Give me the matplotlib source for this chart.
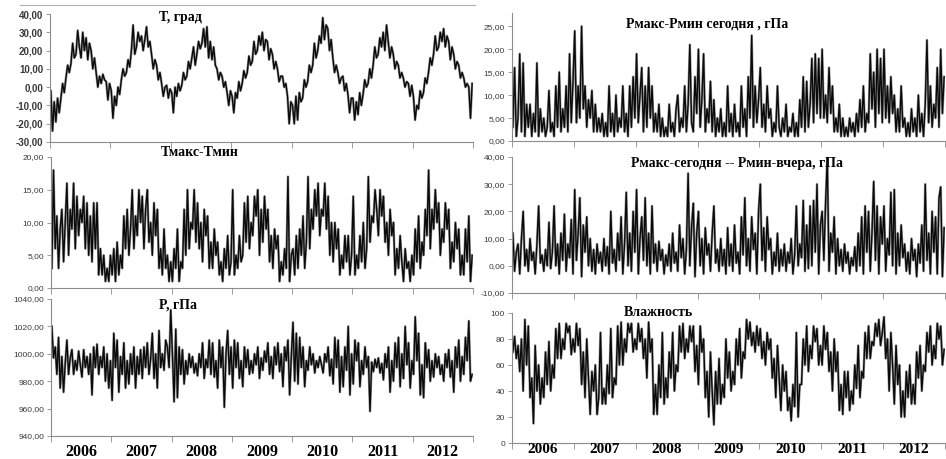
import numpy as np
import matplotlib
matplotlib.use('Agg')
import matplotlib.pyplot as plt
from matplotlib.ticker import FuncFormatter, FixedLocator, NullFormatter
from matplotlib.lines import Line2D

years = [2006, 2007, 2008, 2009, 2010, 2011, 2012]
per_year = 36  # три значения на месяц

# Т, град
t_grad = [
    -2, -24, -8, -19, -6, -14, -6, 2, -3, 5, 12, 8, 13, 24, 16, 18, 31, 22, 16, 30, 20, 27, 15, 24, 20, 10, 16, 8, 0, 6, 2, 7, 4, 3, -7, 2,
    -2, -17, -5, -10, 0, -4, 4, 10, 6, 8, 15, 11, 20, 34, 18, 22, 30, 25, 28, 20, 26, 33, 22, 25, 18, 10, 15, 12, 4, 8, 2, -5, 0, 1, -6, -1,
    -3, -14, 0, -5, 2, -2, 1, 8, 4, 6, 14, 10, 16, 22, 12, 18, 25, 21, 24, 32, 22, 33, 16, 25, 15, 22, 12, 10, 4, 8, 6, 0, 3, -3, -10, -2,
    -5, -14, -3, -6, 3, -2, 2, 9, 5, 8, 17, 12, 14, 25, 18, 20, 28, 23, 30, 20, 26, 25, 15, 21, 18, 10, 14, 10, 3, 6, 6, 0, 2, -5, -20, -8,
    -10, -20, -5, -18, -3, -8, -6, 4, 0, 3, 12, 8, 12, 24, 16, 20, 28, 24, 38, 26, 34, 32, 20, 26, 16, 8, 12, 8, 2, 5, 6, -2, 2, -4, -14, -6,
    -6, -18, -8, -15, -3, -10, -4, 4, 0, 2, 10, 5, 12, 22, 16, 18, 27, 22, 30, 20, 34, 25, 16, 22, 18, 10, 14, 12, 5, 8, 5, 0, 3, 2, -5, 1,
    -5, -18, -10, -12, -2, -6, -3, 5, 2, 8, 16, 12, 18, 28, 20, 22, 30, 25, 32, 22, 28, 25, 15, 22, 18, 10, 14, 12, 5, 8, 5, 0, 2, 0, -17, 2,
]

# Тмакс-Тмин
t_range = [
    3, 18, 6, 11, 3, 9, 12, 4, 10, 16, 5, 12, 9, 16, 6, 14, 8, 12, 10, 14, 6, 13, 5, 11, 4, 13, 6, 13, 2, 6, 2, 5, 1, 3, 1, 5,
    2, 6, 1, 7, 2, 5, 3, 11, 6, 12, 5, 9, 15, 6, 11, 8, 15, 10, 14, 6, 12, 15, 7, 10, 5, 13, 8, 12, 3, 6, 2, 9, 3, 5, 1, 4,
    1, 6, 3, 9, 1, 4, 3, 12, 5, 15, 6, 10, 9, 15, 7, 13, 6, 10, 4, 12, 8, 11, 3, 7, 3, 9, 5, 7, 2, 4, 1, 6, 3, 8, 2, 4,
    15, 2, 5, 3, 8, 4, 5, 13, 7, 14, 6, 10, 8, 14, 11, 15, 5, 12, 7, 14, 9, 12, 4, 8, 3, 9, 6, 8, 1, 4, 2, 6, 3, 17, 1, 5,
    6, 2, 8, 3, 9, 5, 11, 3, 7, 17, 6, 12, 9, 15, 11, 16, 8, 12, 11, 16, 9, 14, 5, 10, 4, 10, 6, 9, 2, 5, 3, 8, 4, 8, 2, 5,
    14, 2, 5, 3, 8, 4, 10, 3, 6, 17, 7, 11, 10, 15, 12, 8, 15, 11, 14, 7, 10, 5, 12, 8, 10, 2, 6, 3, 8, 4, 1, 6, 3, 4, 1, 5,
    2, 9, 4, 11, 3, 7, 5, 12, 8, 18, 6, 12, 9, 15, 10, 13, 5, 9, 7, 13, 9, 12, 3, 7, 4, 10, 6, 9, 2, 5, 2, 9, 4, 11, 1, 5,
]

# P, гПа
pressure = [
    1020, 997, 1005, 985, 1012, 975, 998, 972, 993, 1010, 985, 997, 1003, 985, 995, 988, 1002, 992, 983, 1003, 990, 998, 985, 1000, 970, 1005, 990, 1007, 985, 998, 990, 1005, 980, 1000, 975, 995,
    966, 1015, 990, 1010, 972, 998, 985, 1008, 975, 995, 978, 1000, 985, 1005, 975, 998, 985, 1003, 982, 1005, 990, 1008, 985, 996, 1015, 982, 1000, 975, 1017, 990, 1000, 988, 1010, 1005, 990, 1032,
    1000, 965, 1018, 968, 1005, 985, 1003, 978, 995, 985, 1000, 990, 998, 986, 993, 984, 1000, 990, 1008, 982, 996, 990, 1010, 985, 1008, 983, 995, 975, 1010, 990, 1005, 961, 1000, 1017, 985, 1005,
    975, 1010, 990, 1008, 982, 995, 976, 1005, 990, 1003, 985, 995, 986, 1000, 992, 1005, 982, 997, 988, 1002, 994, 1008, 985, 998, 982, 1005, 992, 1008, 987, 1000, 976, 1005, 995, 1010, 970, 998,
    1023, 980, 1015, 978, 1012, 990, 1005, 976, 995, 988, 1005, 992, 1000, 986, 995, 990, 998, 992, 986, 1000, 994, 1005, 984, 996, 978, 1012, 990, 1010, 972, 998, 976, 1005, 988, 1020, 970, 1000,
    978, 1010, 995, 1008, 976, 995, 985, 1005, 990, 998, 958, 994, 987, 996, 990, 997, 986, 993, 981, 1000, 990, 1005, 972, 995, 980, 1008, 990, 1012, 976, 1000, 982, 1020, 992, 1008, 975, 995,
    985, 1027, 995, 1015, 970, 992, 968, 1008, 990, 1003, 980, 995, 983, 1000, 990, 998, 985, 992, 980, 1000, 990, 1003, 983, 995, 972, 1005, 990, 1010, 980, 998, 985, 1012, 995, 1024, 980, 985,
]

# Рмакс-Рмин сегодня
dp_today = [
    3, 16, 1, 5, 19, 2, 17, 1, 8, 3, 8, 1, 6, 2, 17, 1, 7, 2, 5, 1, 3, 11, 2, 4, 1, 12, 3, 15, 2, 7, 3, 12, 2, 19, 4, 13,
    24, 4, 12, 5, 25, 7, 12, 3, 9, 5, 11, 2, 8, 2, 5, 2, 6, 1, 4, 1, 12, 2, 6, 1, 10, 2, 5, 3, 12, 2, 6, 1, 12, 3, 14, 5,
    19, 4, 10, 16, 2, 12, 3, 16, 5, 12, 2, 6, 2, 8, 1, 5, 1, 3, 1, 8, 2, 4, 1, 7, 10, 2, 5, 3, 12, 2, 8, 21, 4, 2, 14, 6,
    20, 3, 9, 19, 2, 7, 4, 13, 2, 9, 1, 5, 2, 7, 1, 4, 1, 12, 2, 6, 1, 8, 2, 4, 1, 12, 3, 7, 1, 14, 5, 23, 3, 12, 4, 9,
    16, 3, 8, 2, 12, 5, 7, 1, 4, 2, 12, 3, 1, 5, 2, 8, 1, 3, 2, 6, 1, 4, 1, 9, 3, 14, 2, 13, 3, 8, 18, 4, 19, 6, 18, 5,
    20, 5, 10, 4, 16, 6, 12, 2, 5, 2, 8, 1, 5, 1, 3, 1, 5, 2, 4, 1, 6, 2, 9, 3, 12, 2, 6, 4, 19, 7, 15, 3, 20, 6, 18, 4,
    20, 5, 12, 4, 14, 6, 10, 2, 7, 2, 12, 3, 5, 1, 4, 1, 7, 2, 5, 1, 10, 2, 6, 1, 8, 22, 4, 12, 3, 8, 5, 16, 3, 20, 6, 14,
]

# Рмакс-сегодня -- Рмин-вчера
dp_yesterday = [
    12, -2, 5, 8, -3, 10, 20, 0, 6, -2, 10, 2, 5, -3, 8, 22, 1, 4, -2, 6, 0, 16, -1, 5, 22, 0, 8, -3, 12, 2, 19, -2, 8, 3, 17, -3,
    28, 2, 12, 25, -4, 15, 5, 18, 0, 10, -2, 6, -3, 8, 1, 5, -2, 10, 0, 7, -3, 20, 1, 6, -2, 12, 2, 18, -3, 8, 27, 0, 12, -2, 20, 5,
    28, -3, 10, 18, 2, 25, 0, 12, -3, 22, 1, 8, -2, 9, 2, 6, -3, 4, 0, 8, -2, 12, 1, 5, -2, 15, 3, 10, -3, 6, 34, 0, 14, 23, -4, 12,
    20, 0, 10, -3, 14, 4, 8, -2, 12, 22, 1, 6, -2, 10, 0, 6, -3, 14, 0, 8, -2, 15, 1, 5, -3, 18, 4, 25, 0, 10, -2, 18, 6, 12, -3, 20,
    30, 2, 14, -2, 18, 6, 10, -3, 5, 0, 12, -2, 6, 0, 8, -2, 5, 1, 10, -3, 4, 22, 0, 8, 3, 24, -2, 15, -1, 22, 0, 24, 5, 30, -3, 15,
    20, 2, 23, 40, -2, 12, 5, 18, -3, 10, 0, 6, -2, 8, 1, 5, -3, 3, 0, 7, -2, 12, 0, 18, -3, 22, 5, 20, -2, 12, 31, 2, 22, -3, 18, 8,
    22, -2, 10, 4, 27, 0, 28, -3, 12, 0, 15, 3, 8, -2, 5, -3, 10, 2, 6, -4, 8, 1, 15, -2, 30, 2, 12, -3, 20, 5, 18, -3, 25, 29, -4, 14,
]

# Влажность
humidity = [
    70, 82, 65, 75, 55, 80, 40, 95, 60, 90, 35, 50, 15, 75, 40, 60, 30, 50, 35, 70, 45, 78, 40, 60, 50, 88, 65, 92, 65, 80, 72, 92, 85, 90, 68, 80,
    70, 92, 75, 88, 45, 70, 35, 80, 50, 22, 55, 40, 60, 22, 35, 85, 30, 42, 30, 60, 38, 88, 35, 50, 45, 90, 60, 93, 60, 80, 70, 92, 85, 92, 70, 80,
    72, 92, 78, 88, 65, 80, 50, 93, 70, 80, 22, 45, 22, 60, 35, 85, 30, 50, 35, 70, 50, 85, 40, 60, 55, 90, 70, 92, 65, 80, 70, 90, 78, 90, 55, 75,
    45, 90, 70, 80, 35, 55, 20, 70, 40, 14, 55, 30, 65, 30, 45, 35, 80, 50, 70, 40, 55, 45, 80, 60, 88, 50, 70, 65, 95, 80, 93, 75, 85, 70, 90, 75,
    88, 65, 78, 60, 85, 72, 80, 50, 65, 35, 75, 50, 25, 60, 40, 55, 25, 35, 17, 45, 28, 85, 20, 45, 45, 80, 60, 90, 55, 75, 65, 90, 78, 88, 60, 75,
    60, 90, 72, 85, 55, 70, 40, 80, 55, 70, 25, 45, 22, 55, 35, 55, 25, 40, 30, 60, 42, 75, 35, 55, 50, 85, 65, 90, 65, 78, 75, 92, 82, 95, 75, 85,
    97, 65, 80, 40, 85, 60, 30, 75, 45, 60, 20, 40, 20, 55, 35, 60, 30, 45, 30, 70, 50, 75, 40, 60, 55, 85, 70, 90, 60, 75, 65, 92, 80, 90, 60, 72,
]

W, H = 946, 459


def box(x0, y0, x1, y1):
    # пиксели (сверху вниз) -> доли фигуры
    return [x0 / W, 1 - y1 / H, (x1 - x0) / W, (y1 - y0) / H]


def comma2(v, pos):
    return ('%.2f' % v).replace('.', ',')


def setup(ax, ylim, yticks, fmt, lab_size, bold=False):
    ax.set_xlim(years[0], years[-1] + 1)
    ax.set_ylim(*ylim)
    for s in ['top', 'right']:
        ax.spines[s].set_visible(False)
    for s in ['left', 'bottom']:
        ax.spines[s].set_color('#8c8c8c')
        ax.spines[s].set_linewidth(0.8)
    ax.set_yticks(yticks)
    ax.yaxis.set_major_formatter(FuncFormatter(fmt))
    ax.tick_params(axis='y', length=3, width=0.6, color='#8c8c8c', pad=2,
                   labelsize=lab_size, labelcolor='#3a3a3a')
    if bold:
        for lb in ax.get_yticklabels():
            lb.set_fontweight('bold')
    ax.xaxis.set_major_locator(FixedLocator(years + [years[-1] + 1]))
    ax.xaxis.set_major_formatter(NullFormatter())
    ax.tick_params(axis='x', which='major', length=4, width=0.6, color='#8c8c8c')
    ax.patch.set_alpha(0)


def year_labels(ax, y_frac, size):
    # подписи лет по центру каждого года
    for yr in years:
        ax.text(yr + 0.5, y_frac, str(yr), transform=ax.get_xaxis_transform(),
                ha='center', va='center', fontsize=size, fontweight='bold',
                family='Liberation Serif', clip_on=False)


plt.rcParams['font.family'] = ['Liberation Sans', 'DejaVu Sans']
fig = plt.figure(figsize=(W / 100, H / 100), dpi=100)

n = len(t_grad)
x = years[0] + (np.arange(n) + 0.5) / per_year

panels = [
    (box(50, 14, 473, 142), t_grad, (-30, 40), np.arange(-30, 41, 10), comma2, 7, None, True, 'Т, град', 180, 17),
    (box(51, 157, 473, 288), t_range, (0, 20), np.arange(0, 21, 5), comma2, 6, None, False, 'Тмакс-Тмин', 200, 153),
    (box(51, 299, 473, 436), pressure, (940, 1040), np.arange(940, 1041, 20), comma2, 6, -16 / 137, False, 'P, гПа', 178, 305),
    (box(512, 13, 945, 141), dp_today, (0, 27.9), np.arange(0, 26, 5), comma2, 6, None, False, 'Рмакс-Рмин сегодня , гПа', 707, 24),
    (box(512, 157, 945, 293), dp_yesterday, (-10, 40), np.arange(-10, 41, 10), comma2, 6, None, False, 'Рмакс-сегодня -- Рмин-вчера, гПа', 737, 163),
    (box(512, 313, 945, 443), humidity, (0, 100), np.arange(0, 101, 20), lambda v, p: '%d' % v, 6, -6.5 / 130, False, 'Влажность', 658, 313),
]

for rect, vals, ylim, yticks, fmt, lsize, yl, bold, title, tx, ty in panels:
    ax = fig.add_axes(rect)
    # серая кайма + чёрная линия, как в исходнике
    ax.plot(x, vals, color='#9a9a9a', linewidth=1.8)
    ax.plot(x, vals, color='#0a0a0a', linewidth=1.0)
    setup(ax, ylim, yticks, fmt, lsize, bold=bold)
    if yl is not None:
        year_labels(ax, yl, 11 if yl > -0.1 else 11.5)
    fig.text(tx / W, 1 - ty / H, title, ha='center', va='center', fontsize=10,
             fontweight='bold', family='Liberation Serif')

# рамка области диаграммы сверху
fig.add_artist(Line2D([20 / W, 475 / W], [1 - 5 / H, 1 - 5 / H], color='#b0b0b0', linewidth=0.8))

fig.savefig('out.png', dpi=100)
